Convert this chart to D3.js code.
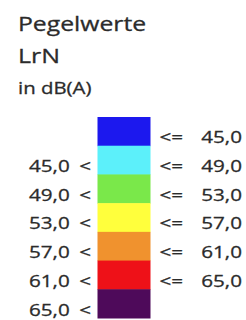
<!DOCTYPE html>
<html><head><meta charset="utf-8">
<script src="https://cdn.jsdelivr.net/npm/d3@7/dist/d3.min.js"></script>
<style>html,body{margin:0;padding:0;background:#fff;}svg{display:block;}</style>
</head><body>
<script>
const titleLines = ["Pegelwerte", "LrN"];
const unitLabel = "in dB(A)";
const classIds = ["k1","k2","k3","k4","k5","k6","k7"];
const lowerBounds = [null, 45.0, 49.0, 53.0, 57.0, 61.0, 65.0];
const upperBounds = [45.0, 49.0, 53.0, 57.0, 61.0, 65.0, null];
const classColors = ["#1c18ee","#5cf0fa","#7ae84a","#ffff3c","#f0922e","#ee1118","#4e0a5a"];

const W = 246, H = 320, sx = 1.2;
const svg = d3.select("body").append("svg").attr("width", W).attr("height", H);
const fmt = d3.formatLocale({decimal: ",", thousands: ".", grouping: [3], currency: ["", "€"]}).format(".1f");
const ink = "#2b2b2b";
const font = "'Open Sans', sans-serif";

function txt(x, y, s, size, anchor) {
  svg.append("text")
    .attr("transform", `translate(${x},${y}) scale(${sx},1)`)
    .attr("text-anchor", anchor || "start")
    .attr("font-family", font).attr("font-size", size).attr("fill", ink)
    .attr("stroke", ink).attr("stroke-width", 0.3)
    .text(s);
}
txt(18, 30.7, titleLines[0], 20.6);
txt(18, 62.7, titleLines[1], 20.8);
txt(18, 94, unitLabel, 17);

const y = d3.scaleBand().domain(classIds).range([117, 318]).padding(0);
const x0 = 97.5, x1 = 150.5;

svg.selectAll("rect.band").data(classIds).join("rect").attr("class", "band")
  .attr("x", x0).attr("width", x1 - x0)
  .attr("y", d => y(d)).attr("height", y.bandwidth() + 0.5)
  .attr("fill", (d, i) => classColors[i]);

classIds.forEach((d, i) => {
  const base = y(d) + y.bandwidth() - 2.5;
  if (lowerBounds[i] !== null) {
    txt(29, base, fmt(lowerBounds[i]), 17.2, "start");
    txt(91, base, "<", 17.2, "end");
  }
  if (upperBounds[i] !== null) {
    txt(159.5, base, "<=", 17.2, "start");
    txt(242, base, fmt(upperBounds[i]), 17.2, "end");
  }
});
</script>
</body></html>
